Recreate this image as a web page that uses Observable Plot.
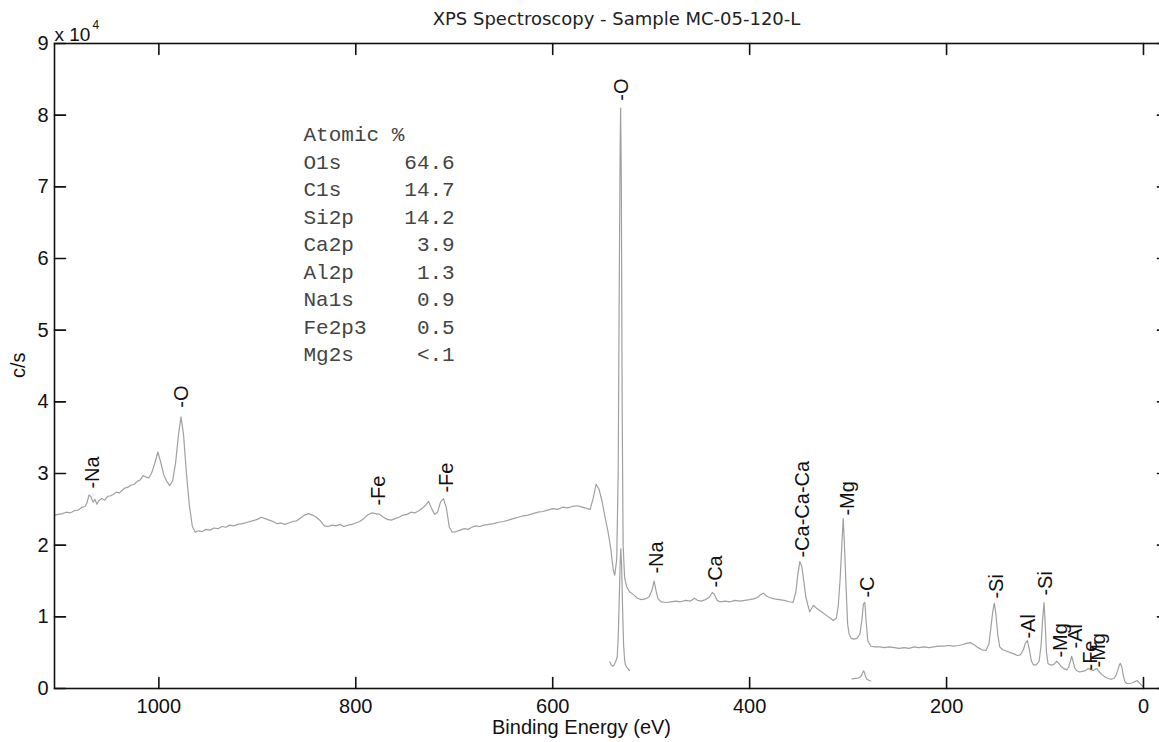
<!DOCTYPE html>
<html><head><meta charset="utf-8">
<script src="https://cdn.jsdelivr.net/npm/d3@7"></script>
<script src="https://cdn.jsdelivr.net/npm/@observablehq/plot@0.6"></script>
<style>html,body{margin:0;padding:0;background:#fff;overflow:hidden}</style>
</head><body><div id="chart"></div>
<script>
// Survey spectrum: [binding energy (eV), counts per second]
const survey = [
[1106,24200],[1102,24300],[1098,24400],[1094,24600],[1090,24500],[1086,24800],[1082,24900],[1078,25300],[1075,25400],[1073,25900],[1071,27000],[1069,26800],[1067,26000],[1065,26400],[1063,25700],[1061,26200],[1058,26500],[1055,26300],[1052,26800],[1049,26900],[1046,27100],[1043,27400],[1040,27300],[1037,27700],[1034,28000],[1031,28100],[1028,28400],[1025,28500],[1022,28900],[1019,29100],[1016,29700],[1013,29500],[1010,29400],[1007,30200],[1004,31500],[1001,33000],[998,31500],[995,29800],[992,28900],[989,28300],[986,29000],[983,31500],[980,35500],[977.5,37900],[975,35500],[972,30000],[969,25500],[966,22600],[963,21800],[960,22000],[956,21900],[952,22200],[948,22100],[944,22400],[940,22300],[936,22600],[932,22500],[928,22800],[924,22700],[920,22900],[915,23000],[910,23200],[905,23400],[900,23600],[896,23900],[892,23700],[888,23500],[884,23300],[880,23000],[876,23100],[872,22900],[868,23100],[864,23300],[860,23400],[856,23800],[852,24200],[848,24400],[844,24200],[840,23900],[836,23400],[832,22700],[828,22600],[824,22800],[820,22700],[816,22900],[812,22600],[808,22800],[804,22900],[800,23100],[796,23300],[792,23700],[788,24200],[784,24500],[780,24400],[776,24300],[772,23900],[768,23600],[764,23500],[760,23700],[756,23900],[752,24200],[748,24300],[744,24600],[740,24500],[736,24800],[732,25200],[729,25600],[726,26100],[723,25100],[720,24300],[717,24600],[714,26000],[711,26500],[708,25200],[705,22500],[702,21800],[698,21900],[694,22100],[690,22300],[686,22200],[682,22500],[678,22700],[674,22600],[670,22800],[665,22900],[660,23000],[655,23200],[650,23300],[645,23500],[640,23700],[635,23900],[630,24100],[625,24200],[620,24400],[615,24600],[610,24700],[605,24900],[600,25100],[595,25000],[590,25300],[585,25200],[580,25400],[575,25500],[570,25300],[565,25100],[562,25000],[559,26500],[556,28500],[553,27800],[550,26200],[547,24000],[544,22000],[541,19500],[538.5,16500],[537,15800],[535,18000],[533.5,30000],[532.5,55000],[531.5,76000],[531,81000],[530.3,70000],[529.5,40000],[528.5,20000],[527,15500],[525,14200],[522,13500],[518,13100],[514,12600],[510,12400],[506,12500],[502,12800],[499,13800],[497,15000],[495,13600],[493,12500],[490,12100],[485,12000],[480,12100],[475,12200],[470,12100],[465,12300],[460,12200],[456,12600],[453,12300],[449,12200],[445,12400],[441,12700],[438,13400],[436,13200],[433,12300],[430,12100],[425,12200],[420,12100],[415,12300],[410,12200],[405,12300],[400,12400],[396,12500],[392,12700],[389,13100],[386,13300],[383,12900],[380,12700],[375,12500],[370,12400],[365,12300],[360,12100],[356,12000],[353,13500],[351,16000],[349,17700],[347,17000],[345,15000],[343,12800],[341,11700],[339,10700],[337,11200],[335,11600],[333,11300],[330,11000],[327,10700],[324,10400],[321,10100],[318,9800],[315,9500],[312,9800],[310,11500],[308,15500],[306,21000],[305,23700],[304,21000],[302,14000],[300.5,9000],[299,7600],[297,7000],[294,6900],[291,7000],[288,7600],[286,9500],[284.5,11800],[283,12000],[281.5,9000],[280,6700],[277,5900],[273,5800],[268,5800],[263,5700],[258,5800],[253,5700],[248,5600],[243,5700],[238,5600],[233,5800],[228,5700],[223,5800],[218,5700],[213,5800],[208,5900],[203,5900],[198,6000],[193,5900],[188,6000],[184,6100],[180,6300],[176,6400],[172,6100],[168,5700],[164,5400],[160,5300],[157,6200],[155,8500],[153,10800],[151.5,11900],[150,10500],[148,7500],[146,5800],[143,5400],[139,5200],[135,5000],[131,4800],[128,4600],[125,4700],[122,5400],[120,6300],[118,6700],[116,5500],[114,3900],[112,3300],[109,3300],[106,3800],[104,6000],[102.5,9500],[101,12000],[100,9500],[98.5,5000],[97,3500],[95,3300],[92,3300],[90,3500],[88,3800],[86,3500],[84,3100],[82,2900],[80,2700],[78,2600],[76,3000],[74,3900],[73,4500],[71.5,3800],[70,2900],[68,2500],[65,2300],[62,2400],[59,2500],[57,2700],[55.5,2800],[53,2600],[51,2500],[49,2700],[47.5,2800],[46,2500],[44,2200],[42,1900],[39,1600],[36,1400],[33,1300],[30,1400],[28,1800],[26,2600],[24.5,3300],[23.5,3500],[22,3000],[20.5,1800],[19,1000],[17,700],[14,700],[11,800],[8,1000],[6.5,1100],[5,900],[3,600],[1.5,400],[0.5,300]
];
// High-resolution O 1s window (scaled)
const oWindow = [[542,3700],[540.5,3300],[539,3100],[537.5,3300],[536,3800],[534.5,4400],[533.5,7000],[532.5,12000],[531.5,17500],[530.8,19500],[530,17000],[529,11000],[528,6000],[527,4000],[526.3,3400],[524.5,2900],[522,2500]];
// High-resolution C 1s window (scaled)
const cWindow = [[296,1350],[293,1400],[290,1450],[287.5,1600],[286,1900],[285,2300],[284.2,2450],[283.3,2200],[282.5,1700],[281,1300],[279,1150],[277,1050]];

const peakLabels = [
  {be:1067.4, y:27900, text:"-Na"},
  {be:977.0, y:39190, text:"-O"},
  {be:777.0, y:25520, text:"-Fe"},
  {be:707.9, y:27340, text:"-Fe"},
  {be:530.2, y:82010, text:"-O"},
  {be:494.6, y:16040, text:"-Na"},
  {be:434.7, y:14090, text:"-Ca"},
  {be:346.6, y:18270, text:"-Ca-Ca-Ca"},
  {be:300.9, y:24130, text:"-Mg"},
  {be:280.6, y:12690, text:"-C"},
  {be:149.6, y:12550, text:"-Si"},
  {be:116.8, y:6970, text:"-Al"},
  {be:99.5, y:12970, text:"-Si"},
  {be:84.3, y:4320, text:"-Mg"},
  {be:69.1, y:5580, text:"-Al"},
  {be:53.8, y:2510, text:"-Fe"},
  {be:45.7, y:2930, text:"-Mg"}
];

const atomicNames = ["O1s","C1s","Si2p","Ca2p","Al2p","Na1s","Fe2p3","Mg2s"];
const atomicValues = ["64.6","14.7","14.2","3.9","1.3","0.9","0.5","<.1"];

const xTicks = [1000, 800, 600, 400, 200, 0];
const yTicks = [0,10000,20000,30000,40000,50000,60000,70000,80000,90000];
const xDomain = [1106, -25.4];
const yDomain = [0, 90000];

const title = "XPS Spectroscopy - Sample MC-05-120-L";
const xLabel = "Binding Energy (eV)";
const yLabel = "c/s";

const toObj = a => a.map(([be, cps]) => ({be, cps}));
const legendText = ["Atomic %"].concat(atomicNames.map((n, i) => n.padEnd(8) + atomicValues[i].padStart(4))).join("\n");

const tickShape = {draw(ctx, l) { ctx.moveTo(0, 0); ctx.lineTo(0, -l); }};
const sans = "'Liberation Sans', Arial, sans-serif";
const lineColor = "#a0a0a0";

const chart = Plot.plot({
  width: 1159, height: 742,
  marginLeft: 54, marginTop: 43, marginBottom: 54, marginRight: -9,
  style: {fontFamily: sans, background: "#fff", overflow: "visible"},
  x: {domain: xDomain},
  y: {domain: yDomain},
  marks: [
    Plot.line(toObj(survey), {x: "be", y: "cps", stroke: lineColor, strokeWidth: 1.2}),
    Plot.line(toObj(oWindow), {x: "be", y: "cps", stroke: lineColor, strokeWidth: 1.2}),
    Plot.line(toObj(cWindow), {x: "be", y: "cps", stroke: lineColor, strokeWidth: 1.2}),
    Plot.frame({stroke: "#111", strokeWidth: 1.6}),
    // inside ticks (box style)
    Plot.vector(xTicks, {x: d => d, y: yDomain[0], length: 11, rotate: 0, anchor: "start", shape: tickShape, stroke: "#111", strokeWidth: 1.6}),
    Plot.vector(xTicks, {x: d => d, y: yDomain[1], length: 11, rotate: 180, anchor: "start", shape: tickShape, stroke: "#111", strokeWidth: 1.6}),
    Plot.vector(yTicks, {x: xDomain[0], y: d => d, length: 11, rotate: 90, anchor: "start", shape: tickShape, stroke: "#111", strokeWidth: 1.6}),
    Plot.vector(yTicks, {x: xDomain[1], y: d => d, length: 11, rotate: 270, anchor: "start", shape: tickShape, stroke: "#111", strokeWidth: 1.6}),
    Plot.axisX({ticks: xTicks, tickSize: 0, tickPadding: 10, fontSize: 20, label: null, tickFormat: d => String(d), fill: "#111"}),
    Plot.axisY({ticks: yTicks, tickSize: 0, tickPadding: 6, fontSize: 20, label: null, tickFormat: d => String(d / 1e4), fill: "#111"}),
    // peak labels
    Plot.text(peakLabels, {x: "be", y: "y", text: "text", rotate: -90, textAnchor: "start", fontSize: 20, fill: "#111"}),
    // atomic % table
    Plot.text([legendText], {frameAnchor: "top-left", dx: 249, dy: 78, textAnchor: "start", lineAnchor: "top", lineHeight: 1.31, fontSize: 21, fontFamily: "'Liberation Mono', 'Courier New', monospace", fill: "#444"}),
    // title, axis labels, exponent
    Plot.text([title], {frameAnchor: "top", dx: 5, dy: -31, fontSize: 18, fontFamily: "'DejaVu Sans', Verdana, sans-serif", fill: "#222"}),
    Plot.text([xLabel], {frameAnchor: "bottom", dx: -30, dy: 45, fontSize: 20, fill: "#111"}),
    Plot.text([yLabel], {frameAnchor: "left", dx: -36, dy: 12, rotate: -90, fontSize: 20, fill: "#111"}),
    Plot.text(["x 10"], {frameAnchor: "top-left", dx: 0, dy: -16, textAnchor: "start", fontSize: 19, fill: "#111"}),
    Plot.text(["4"], {frameAnchor: "top-left", dx: 38, dy: -23, textAnchor: "start", fontSize: 12, fill: "#111"})
  ]
});
document.getElementById("chart").appendChild(chart);
</script></body></html>
